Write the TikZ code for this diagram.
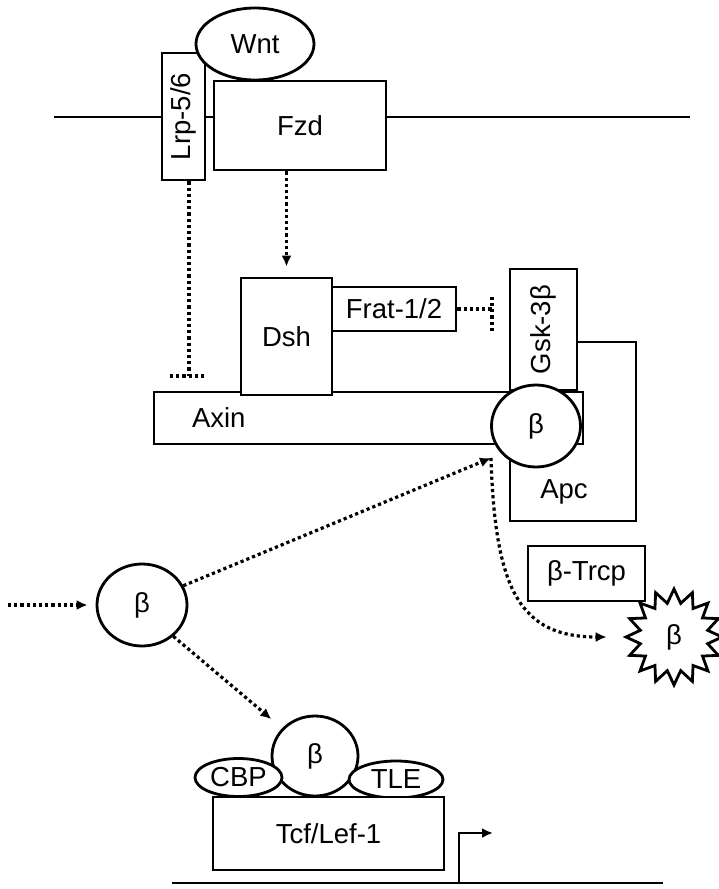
\documentclass[tikz,border=0pt]{standalone}
\usepackage{fontspec}
\setmainfont{Liberation Sans}
\usetikzlibrary{arrows.meta,positioning,shapes.geometric,calc}

\begin{document}
\begin{tikzpicture}[
        x=1pt, y=-1pt,
        font=\fontsize{27.5}{32}\selectfont,
        line width=2.8pt,
        protein/.style={
            draw, fill=white, inner sep=0pt,
            align=center
        },
        blob/.style={protein, ellipse},
        dotline/.style={line width=3.2pt, dash pattern=on 3.2pt off 3pt},
        act/.style={dotline, -{Latex[length=11pt,width=10pt]}},
        tip/.style={-{Latex[length=11pt,width=10pt]}}
    ]
    \useasboundingbox (0,0) rectangle (719,889);

    % Membrane
    \coordinate (mleft) at (54,117);
    \coordinate (mright) at (690,117);
    \draw (mleft) -- (mright);

    % Receptors and ligand
    \node[protein, rotate=90, minimum width=127, minimum height=43] (lrp) at (183.5,116.5) {Lrp-5/6};
    \node[protein, minimum width=172, minimum height=89] (fzd) at (300,125.5) {Fzd};
    \node[blob, minimum width=118, minimum height=72] (wnt) at (255,44) {Wnt};

    % Destruction complex
    \node[protein, minimum width=126, minimum height=179] (apc) at (573,431.5) {};
    \node (apctext) at (564,492) {Apc};
    \node[protein, rotate=90, minimum width=121, minimum height=67] (gsk) at (543.5,329.5) {Gsk-3β};
    \node[protein, minimum height=52, text width=353, inner xsep=38, align=left] (axin) at (368.5,418) {Axin};
    \node[protein, minimum width=91, minimum height=117] (dsh) at (286.5,336.5) {Dsh};
    \node[protein, minimum width=124, minimum height=44] (frat) at (394,309) {Frat-1/2};
    \node[blob, minimum width=89, minimum height=82] (baxin) at (536,426) {β};

    % Free beta-catenin and degradation
    \node[blob, minimum width=90, minimum height=82] (bfree) at (142,605) {β};
    \node[protein, minimum width=117, minimum height=55] (btrcp) at (586.5,573.5) {β-Trcp};
    \node[protein, star, star points=16, star point ratio=1.4, minimum size=96] (deg) at (674,637) {β};

    % Nucleus
    \node[blob, minimum width=86, minimum height=80] (bnuc) at (315,756) {β};
    \node[blob, minimum width=87, minimum height=38] (cbp) at (238.5,777.5) {CBP};
    \node[blob, minimum width=94, minimum height=37] (tle) at (396,779.5) {TLE};
    \node[protein, minimum width=231, minimum height=73] (tcf) at (328.5,833.5) {Tcf/Lef-1};

    % DNA and transcription start
    \coordinate (dnaleft) at (172,883);
    \coordinate (dnaright) at (663,883);
    \coordinate (tss) at (459,883);
    \draw (dnaleft) -- (dnaright);
    \draw[tip] (tss) |- ++(34,-50);

    % Fzd -> Dsh
    \draw[act, shorten >=10pt] (fzd.south -| dsh) -- (dsh.north);

    % Lrp -| Axin
    \coordinate (lrpend) at (189,376);
    \draw[dotline] (lrp.west -| lrpend) -- (lrpend);
    \draw[dotline] ([xshift=-19]lrpend) -- ([xshift=16]lrpend);

    % Frat -| Gsk
    \coordinate (fratend) at (492,309);
    \draw[dotline] (frat.east) -- (fratend);
    \draw[dotline] ([yshift=-22]fratend) -- ([yshift=12]fratend);

    % beta-catenin traffic
    \coordinate (src) at (8,605);
    \coordinate (meet) at (491,458);
    \draw[act, shorten >=8pt] (src) -- (bfree.west);
    \draw[act] (bfree.25) -- (meet);
    \draw[act, shorten >=14pt] (bfree.-45) -- (bnuc);
    \draw[act, shorten >=16pt] (meet) .. controls (495,590) and (520,637) .. (deg.west);

\end{tikzpicture}
\end{document}
